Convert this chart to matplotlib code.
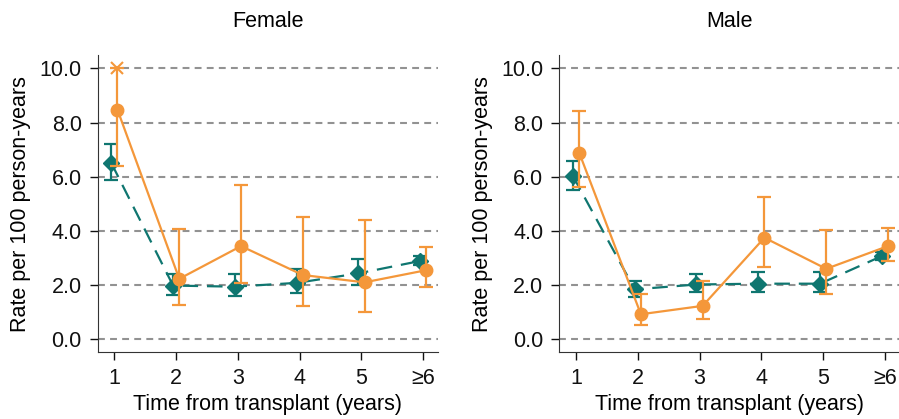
import matplotlib.pyplot as plt

plt.rcParams['font.family'] = ['Liberation Sans', 'DejaVu Sans']

years = [1, 2, 3, 4, 5, 6]
year_labels = ['1', '2', '3', '4', '5', '≥6']

# Female panel
f_teal = [6.5, 1.97, 1.93, 2.07, 2.42, 2.88]
f_teal_lo = [5.88, 1.62, 1.58, 1.70, 1.99, 2.72]
f_teal_hi = [7.21, 2.38, 2.38, 2.57, 2.95, 3.05]
f_orange = [8.47, 2.22, 3.43, 2.36, 2.09, 2.54]
f_orange_lo = [6.38, 1.25, 2.07, 1.22, 1.00, 1.91]
f_orange_hi = [10.0, 4.05, 5.69, 4.52, 4.40, 3.40]

# Male panel
m_teal = [6.02, 1.83, 2.01, 2.04, 2.04, 3.06]
m_teal_lo = [5.51, 1.53, 1.72, 1.74, 1.72, 2.90]
m_teal_hi = [6.59, 2.14, 2.38, 2.46, 2.46, 3.20]
m_orange = [6.89, 0.91, 1.22, 3.74, 2.59, 3.43]
m_orange_lo = [5.63, 0.51, 0.72, 2.67, 1.65, 2.88]
m_orange_hi = [8.44, 1.65, 2.15, 5.26, 4.01, 4.11]

teal = '#0f7670'
orange = '#f4973a'
fs = 15.5

fig = plt.figure(figsize=(8.99, 4.19), dpi=100)
ax1 = fig.add_axes([0.1087, 0.159, 0.3786, 0.71])
ax2 = fig.add_axes([0.6222, 0.159, 0.3786, 0.71])


def draw(ax, title, t, tlo, thi, o, olo, ohi, clip_top=False):
    xt = [x - 0.05 for x in years]
    xo = [x + 0.05 for x in years]
    ax.errorbar(xt, t, yerr=[[a - b for a, b in zip(t, tlo)], [b - a for a, b in zip(t, thi)]],
                color=teal, marker='D', markersize=8.5, linestyle=(0, (7, 4)), linewidth=1.6,
                capsize=5, elinewidth=1.6, capthick=1.6, zorder=3)
    ax.errorbar(xo, o, yerr=[[a - b for a, b in zip(o, olo)], [b - a for a, b in zip(o, ohi)]],
                color=orange, marker='o', markersize=9, linestyle='-', linewidth=1.6,
                capsize=5, elinewidth=1.6, capthick=1.6, zorder=4)
    if clip_top:
        # upper CI truncated at the axis limit
        ax.plot([xo[0]], [ohi[0]], marker='x', color=orange, markersize=9,
                markeredgewidth=1.5, linestyle='none', zorder=5)
    ax.set_xlim(0.73, 6.24)
    ax.set_ylim(-0.5, 10.5)
    ax.set_xticks(years)
    ax.set_xticklabels(year_labels)
    ax.set_yticks([0, 2, 4, 6, 8, 10])
    ax.set_yticklabels(['0.0', '2.0', '4.0', '6.0', '8.0', '10.0'])
    ax.grid(axis='y', color='#929292', linestyle=(0, (3.3, 2.5)), linewidth=1.5)
    ax.set_axisbelow(True)
    ax.spines['top'].set_visible(False)
    ax.spines['right'].set_visible(False)
    ax.spines['left'].set_color('#333333')
    ax.spines['bottom'].set_color('#333333')
    ax.tick_params(labelsize=fs, colors='#111111', length=5.5, width=1, pad=6)
    ax.set_xlabel('Time from transplant (years)', fontsize=fs, labelpad=3)
    ax.set_ylabel('Rate per 100 person-years', fontsize=fs, labelpad=6)
    ax.set_title(title, fontsize=fs, pad=20)


draw(ax1, 'Female', f_teal, f_teal_lo, f_teal_hi, f_orange, f_orange_lo, f_orange_hi, clip_top=True)
draw(ax2, 'Male', m_teal, m_teal_lo, m_teal_hi, m_orange, m_orange_lo, m_orange_hi)

fig.savefig('out.png', dpi=100)
